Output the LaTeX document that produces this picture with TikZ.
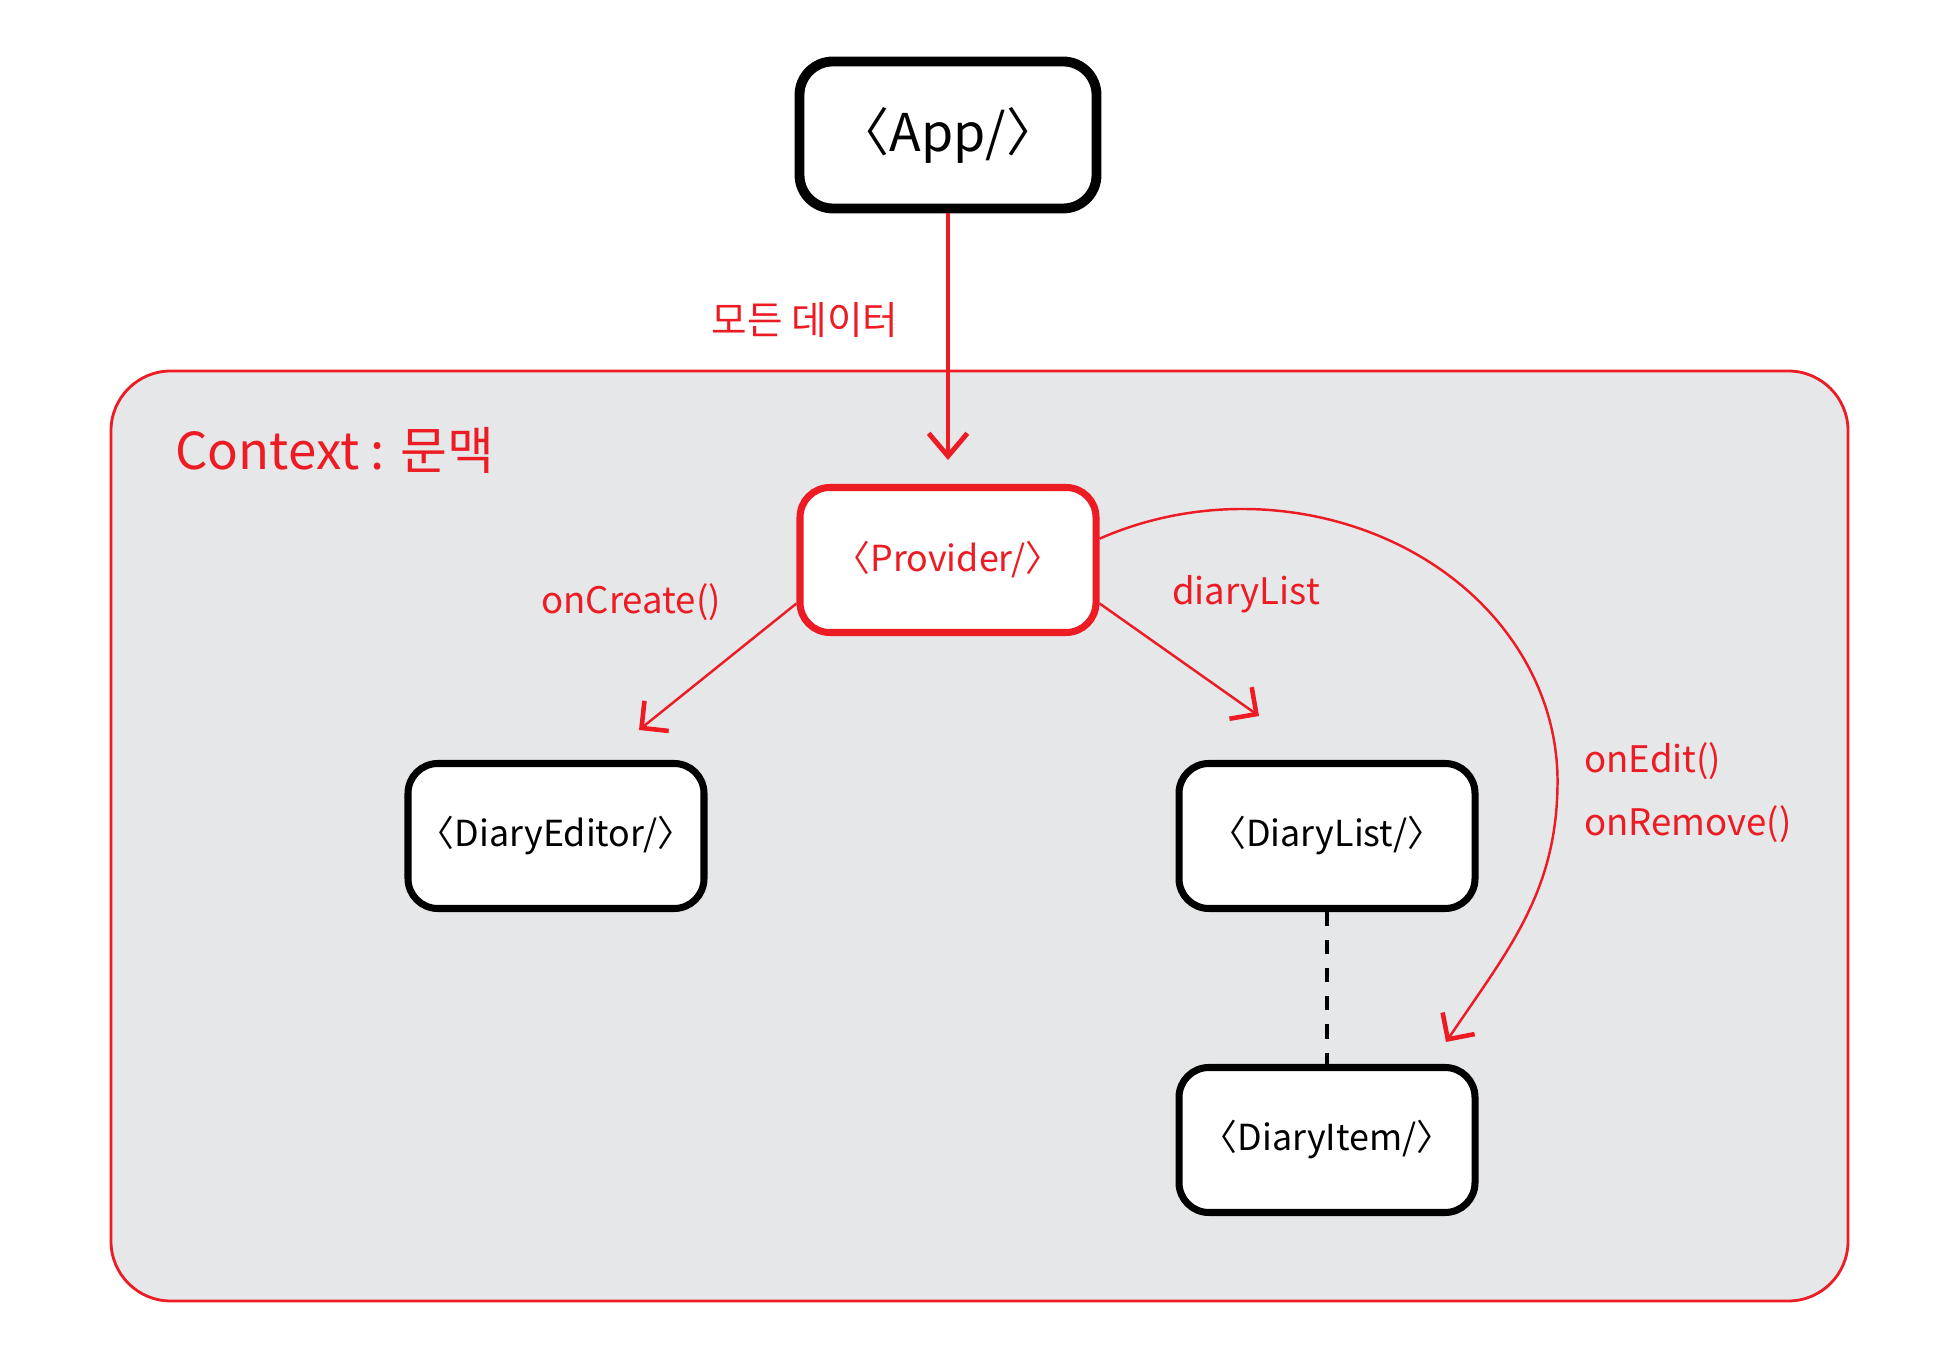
\documentclass[tikz,border=0pt]{standalone}
\usepackage{fontspec}
\setmainfont{Noto Sans CJK KR}
\usetikzlibrary{arrows.meta}
\definecolor{ctxred}{HTML}{ED1C24}
\definecolor{ctxgray}{HTML}{E6E7E8}
\tikzset{
	comp/.style={draw=black, line width=2pt, rounded corners=8.5pt, fill=white, inner sep=1pt,
		minimum width=2.96cm, minimum height=1.45cm, font=\fontsize{10.2}{12}\selectfont},
	lbl/.style={text=ctxred, font=\fontsize{10.4}{12.5}\selectfont},
	barb/.style={ctxred, line width=0.7pt,
		-{Straight Barb[length=5.5pt,width=11pt,line width=1.3pt]}},
}
\begin{document}
\begin{tikzpicture}
		\useasboundingbox (0,0) rectangle (19.4,-13.58);

		% context area
		\draw[ctxred, fill=ctxgray, line width=0.8pt, rounded corners=17pt]
			(1.11,-3.71) rectangle (18.48,-13.01);
		\node[anchor=west, text=ctxred, font=\fontsize{14.5}{17}\selectfont] at (1.63,-4.50) (ctx) {Context : 문맥};

		\node[comp, line width=2.8pt, rounded corners=9.5pt, minimum width=2.97cm, minimum height=1.47cm,
			font=\fontsize{14.8}{18}\selectfont] at (9.48,-1.35) (app) {〈App/〉};
		\node[comp, draw=ctxred, text=ctxred] at (9.48,-5.60) (prov) {〈Provider/〉};
		\node[comp] at (5.56,-8.36) (editor) {〈DiaryEditor/〉};
		\node[comp] at (13.27,-8.36) (list) {〈DiaryList/〉};
		\node[comp] at (13.27,-11.40) (item) {〈DiaryItem/〉};

		\coordinate (createend) at (6.39,-7.30);
		\coordinate (listend) at (12.59,-7.16);
		\coordinate (editend) at (14.46,-10.42);

		\draw[ctxred, line width=1pt, shorten >=0.24cm,
			-{Straight Barb[length=6.5pt,width=11pt,line width=1.4pt]}] (app.south) -- (prov.north);
		\node[lbl, font=\fontsize{11}{13}\selectfont] at (8.05,-3.20) (all) {모든 데이터};

		\draw[barb] (prov.196) -- (createend);
		\draw[barb] (prov.-16) -- (listend);
		\draw[barb] (prov.8) arc[start angle=117, end angle=0, x radius=3.15cm, y radius=2.72cm]
			to[out=-90, in=56] (editend);
		\draw[dashed, line width=1pt, dash pattern=on 4pt off 4pt] (list.south) -- (item.north);

		\node[lbl] at (6.31,-6.02) (create) {onCreate()};
		\node[lbl] at (12.46,-5.94) (dlist) {diaryList};
		\node[lbl, anchor=west] at (15.72,-7.61) (edit) {onEdit()};
		\node[lbl, anchor=west] at (15.72,-8.24) (remove) {onRemove()};
\end{tikzpicture}
\end{document}
